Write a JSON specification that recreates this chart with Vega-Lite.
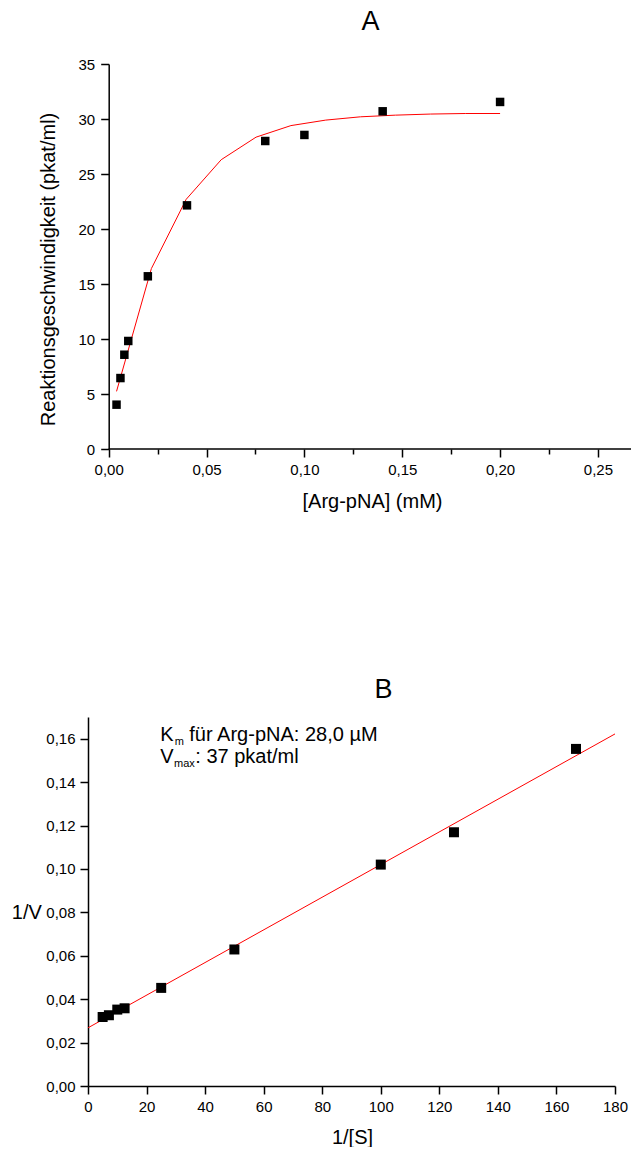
{
  "$schema": "https://vega.github.io/schema/vega-lite/v6.json",
  "background": "white",
  "padding": {"left": 11, "top": 8, "right": 0, "bottom": 0},
  "spacing": 165,
  "config": {
    "font": "Liberation Sans",
    "view": {"stroke": null},
    "axis": {
      "domainColor": "black", "domainWidth": 1.5,
      "tickColor": "black", "tickWidth": 1.5,
      "labelColor": "black", "titleColor": "black",
      "labelFont": "Liberation Sans", "titleFont": "Liberation Sans",
      "labelFontSize": 15, "titleFontSize": 20, "titleFontWeight": "normal",
      "grid": false, "labelOverlap": false, "labelFlush": false, "labelPadding": 5
    },
    "title": {"font": "Liberation Sans", "fontSize": 27, "fontWeight": "normal", "color": "black"}
  },
  "datasets": {
    "points_a": [
      {"s": 0.004, "v": 4.03},
      {"s": 0.006, "v": 6.45},
      {"s": 0.008, "v": 8.57},
      {"s": 0.01, "v": 9.82},
      {"s": 0.02, "v": 15.7},
      {"s": 0.04, "v": 22.15},
      {"s": 0.08, "v": 28.0},
      {"s": 0.1, "v": 28.55},
      {"s": 0.14, "v": 30.7},
      {"s": 0.2, "v": 31.55}
    ],
    "fit_a": [
      {"s": 0.004, "v": 5.24},
      {"s": 0.0218, "v": 16.4},
      {"s": 0.0396, "v": 22.7},
      {"s": 0.0575, "v": 26.3},
      {"s": 0.0753, "v": 28.35},
      {"s": 0.0931, "v": 29.4},
      {"s": 0.1109, "v": 29.9},
      {"s": 0.1287, "v": 30.2},
      {"s": 0.1465, "v": 30.35},
      {"s": 0.1644, "v": 30.45},
      {"s": 0.1822, "v": 30.5},
      {"s": 0.2, "v": 30.5}
    ],
    "points_b": [
      {"inv_s": 5, "inv_v": 0.0318},
      {"inv_s": 7.14, "inv_v": 0.0326},
      {"inv_s": 10, "inv_v": 0.0352},
      {"inv_s": 12.5, "inv_v": 0.0358},
      {"inv_s": 25, "inv_v": 0.0452},
      {"inv_s": 50, "inv_v": 0.0629},
      {"inv_s": 100, "inv_v": 0.102},
      {"inv_s": 125, "inv_v": 0.1169},
      {"inv_s": 166.67, "inv_v": 0.1553}
    ],
    "fit_b": [
      {"inv_s": 0, "inv_v": 0.0268},
      {"inv_s": 180, "inv_v": 0.1622}
    ]
  },
  "vconcat": [
    {
      "width": 543,
      "height": 385,
      "title": {"text": "A", "anchor": "middle", "frame": "group", "baseline": "alphabetic", "offset": 0, "dx": 11},
      "layer": [
        {
          "data": {"name": "fit_a"},
          "mark": {"type": "line", "color": "#ff0000", "strokeWidth": 1},
          "encoding": {
            "x": {
              "field": "s", "type": "quantitative",
              "scale": {"domain": [-0.01058, 0.2669], "nice": false, "zero": false},
              "axis": {
                "title": "[Arg-pNA] (mM)",
                "domain": false,
                "values": [0, 0.025, 0.05, 0.075, 0.1, 0.125, 0.15, 0.175, 0.2, 0.225, 0.25],
                "labelExpr": "round(datum.value*40) % 2 == 1 ? '' : replace(format(datum.value, '.2f'), '.', ',')",
                "tickSize": {"condition": {"test": "round(datum.value*40) % 2 == 1", "value": 5}, "value": 8},
                "titleX": 284, "titleY": 58, "titleBaseline": "alphabetic", "titleAlign": "center"
              }
            },
            "y": {
              "field": "v", "type": "quantitative",
              "scale": {"domain": [0, 35], "nice": false},
              "axis": {
                "title": "Reaktionsgeschwindigkeit (pkat/ml)",
                "offset": -20.7,
                "values": [0, 2.5, 5, 7.5, 10, 12.5, 15, 17.5, 20, 22.5, 25, 27.5, 30, 32.5, 35],
                "labelExpr": "round(datum.value*2) % 2 == 1 ? '' : format(datum.value, 'd')",
                "tickSize": {"condition": {"test": "round(datum.value*2) % 2 == 1", "value": 5}, "value": 8},
                "labelPadding": 6,
                "titleX": -54, "titleY": 205, "titleAngle": 270, "titleBaseline": "alphabetic", "titleAlign": "center"
              }
            }
          }
        },
        {
          "data": {"values": [{}]},
          "mark": {"type": "rule", "color": "black", "strokeWidth": 1.5},
          "encoding": {"x": {"datum": 0}, "x2": {"datum": 0.2669}, "y": {"datum": 0}}
        },
        {
          "data": {"name": "points_a"},
          "mark": {"type": "square", "color": "black", "filled": true, "opacity": 1, "size": 72},
          "encoding": {
            "x": {"field": "s", "type": "quantitative"},
            "y": {"field": "v", "type": "quantitative"}
          }
        }
      ]
    },
    {
      "width": 527,
      "height": 369,
      "title": {"text": "B", "anchor": "middle", "frame": "group", "baseline": "alphabetic", "offset": -8, "dx": 32},
      "layer": [
        {
          "data": {"name": "fit_b"},
          "mark": {"type": "line", "color": "#ff0000", "strokeWidth": 1},
          "encoding": {
            "x": {
              "field": "inv_s", "type": "quantitative",
              "scale": {"domain": [0, 180], "nice": false, "zero": false},
              "axis": {
                "title": "1/[S]",
                "values": [0, 10, 20, 30, 40, 50, 60, 70, 80, 90, 100, 110, 120, 130, 140, 150, 160, 170, 180],
                "labelExpr": "datum.value % 20 == 10 ? '' : format(datum.value, 'd')",
                "tickSize": {"condition": {"test": "datum.value % 20 == 10", "value": 5}, "value": 8},
                "titleX": 264, "titleY": 57, "titleBaseline": "alphabetic", "titleAlign": "center"
              }
            },
            "y": {
              "field": "inv_v", "type": "quantitative",
              "scale": {"domain": [0, 0.17], "nice": false},
              "axis": {
                "title": "1/V",
                "values": [0, 0.01, 0.02, 0.03, 0.04, 0.05, 0.06, 0.07, 0.08, 0.09, 0.1, 0.11, 0.12, 0.13, 0.14, 0.15, 0.16, 0.17],
                "labelExpr": "round(datum.value*100) % 2 == 1 ? '' : replace(format(datum.value, '.2f'), '.', ',')",
                "tickSize": {"condition": {"test": "round(datum.value*100) % 2 == 1", "value": 5}, "value": 8},
                "titleX": -46.6, "titleY": 201, "titleAngle": 0, "titleBaseline": "alphabetic", "titleAlign": "right"
              }
            }
          }
        },
        {
          "data": {"name": "points_b"},
          "mark": {"type": "square", "color": "black", "filled": true, "opacity": 1, "size": 100},
          "encoding": {
            "x": {"field": "inv_s", "type": "quantitative"},
            "y": {"field": "inv_v", "type": "quantitative"}
          }
        },
        {
          "data": {"values": [{}]},
          "mark": {"type": "text", "text": "K", "align": "left", "baseline": "alphabetic", "fontSize": 20, "color": "black"},
          "encoding": {"x": {"datum": 24.7}, "y": {"datum": 0.1588}}
        },
        {
          "data": {"values": [{}]},
          "mark": {"type": "text", "text": "m", "align": "left", "baseline": "alphabetic", "fontSize": 11, "color": "black"},
          "encoding": {"x": {"datum": 29.6}, "y": {"datum": 0.1572}}
        },
        {
          "data": {"values": [{}]},
          "mark": {"type": "text", "text": "für Arg-pNA: 28,0 µM", "align": "left", "baseline": "alphabetic", "fontSize": 20, "color": "black"},
          "encoding": {"x": {"datum": 34.6}, "y": {"datum": 0.1588}}
        },
        {
          "data": {"values": [{}]},
          "mark": {"type": "text", "text": "V", "align": "left", "baseline": "alphabetic", "fontSize": 20, "color": "black"},
          "encoding": {"x": {"datum": 24.7}, "y": {"datum": 0.1488}}
        },
        {
          "data": {"values": [{}]},
          "mark": {"type": "text", "text": "max", "align": "left", "baseline": "alphabetic", "fontSize": 11, "color": "black"},
          "encoding": {"x": {"datum": 29.4}, "y": {"datum": 0.1468}}
        },
        {
          "data": {"values": [{}]},
          "mark": {"type": "text", "text": ": 37 pkat/ml", "align": "left", "baseline": "alphabetic", "fontSize": 20, "color": "black"},
          "encoding": {"x": {"datum": 36.66}, "y": {"datum": 0.1488}}
        }
      ]
    }
  ]
}
